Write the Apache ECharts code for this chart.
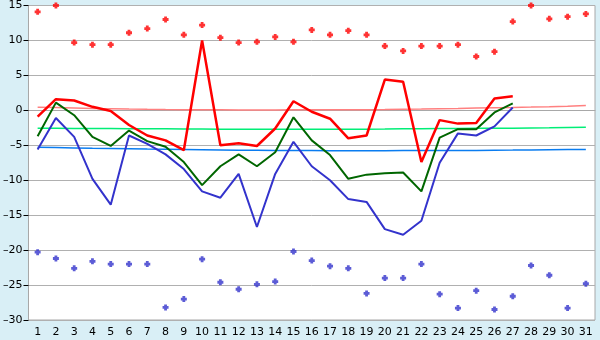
<!DOCTYPE html>
<html>
<head>
<meta charset="utf-8">
<script src="https://cdn.jsdelivr.net/npm/echarts@6/dist/echarts.min.js"></script>
<style>
  html, body { margin: 0; padding: 0; background: #d9eff6; }
  #chart { width: 600px; height: 340px; }
</style>
</head>
<body>
<div id="chart"></div>
<script>
// Days of the month
const days = ['1','2','3','4','5','6','7','8','9','10','11','12','13','14','15','16',
  '17','18','19','20','21','22','23','24','25','26','27','28','29','30','31'];

// Daily maximum, mean and minimum temperature (days 1-27)
const tMax  = [-0.9, 1.6, 1.4, 0.5, -0.1, -2.1, -3.6, -4.3, -5.7, 10.0, -5.0, -4.7, -5.1, -2.6, 1.3,
  -0.2, -1.2, -4.0, -3.6, 4.4, 4.1, -7.4, -1.4, -1.9, -1.8, 1.7, 2.0];
const tMean = [-3.7, 1.1, -0.7, -3.8, -5.1, -2.9, -4.4, -5.2, -7.4, -10.7, -8.0, -6.3, -8.0, -6.0, -1.0,
  -4.3, -6.4, -9.8, -9.2, -9.0, -8.9, -11.6, -3.9, -2.7, -2.7, -0.3, 1.0];
const tMin  = [-5.6, -1.1, -3.8, -9.8, -13.5, -3.6, -4.8, -6.3, -8.4, -11.6, -12.5, -9.1, -16.7, -9.1, -4.5,
  -8.0, -10.0, -12.7, -13.1, -17.0, -17.8, -15.8, -7.5, -3.3, -3.6, -2.3, 0.4];

// Long-term normals for each day
const nMax  = [0.45, 0.4, 0.34, 0.28, 0.23, 0.18, 0.14, 0.11, 0.09, 0.08, 0.07, 0.06, 0.06, 0.06, 0.07, 0.07,
  0.08, 0.09, 0.1, 0.13, 0.17, 0.2, 0.24, 0.28, 0.33, 0.37, 0.41, 0.46, 0.52, 0.6, 0.7];
const nMean = [-2.57, -2.58, -2.59, -2.6, -2.61, -2.62, -2.63, -2.64, -2.66, -2.68, -2.69, -2.7, -2.7, -2.71, -2.71, -2.71,
  -2.7, -2.7, -2.69, -2.67, -2.64, -2.62, -2.6, -2.59, -2.58, -2.57, -2.55, -2.53, -2.5, -2.46, -2.43];
const nMin  = [-5.29, -5.33, -5.38, -5.43, -5.47, -5.51, -5.55, -5.58, -5.61, -5.64, -5.67, -5.7, -5.72, -5.74, -5.75, -5.76,
  -5.77, -5.77, -5.77, -5.77, -5.76, -5.76, -5.75, -5.74, -5.73, -5.71, -5.69, -5.66, -5.64, -5.62, -5.6];

// Record highs and lows for each day
const recMax = [14.1, 15.0, 9.7, 9.4, 9.4, 11.1, 11.7, 13.0, 10.8, 12.2, 10.4, 9.7, 9.8, 10.5, 9.8, 11.5,
  10.8, 11.4, 10.8, 9.2, 8.5, 9.2, 9.2, 9.4, 7.7, 8.4, 12.7, 15.0, 13.1, 13.4, 13.8];
const recMin = [-20.3, -21.2, -22.6, -21.6, -22.0, -22.0, -22.0, -28.2, -27.0, -21.3, -24.6, -25.6, -24.9, -24.5, -20.2, -21.5,
  -22.3, -22.6, -26.2, -24.0, -24.0, -22.0, -26.3, -28.3, -25.8, -28.5, -26.6, -22.2, -23.6, -28.3, -24.8];

// Chunky cross marker for the record points
const crossMark = 'path://M1.6,0H4.4V1.6H6V4.4H4.4V6H1.6V4.4H0V1.6H1.6Z';
const font = 'DejaVu Sans';

function lineSeries(data, color, width, z) {
  return {
    type: 'line', data: data, symbol: 'none', z: z, silent: true,
    lineStyle: { color: color, width: width }
  };
}
function dotSeries(data, color) {
  return {
    type: 'scatter', data: data, symbol: crossMark, symbolSize: 6, z: 10, clip: false, silent: true,
    itemStyle: { color: color }
  };
}

const chart = echarts.init(document.getElementById('chart'), null, { renderer: 'canvas' });
chart.setOption({
  animation: false,
  backgroundColor: '#d9eff6',
  grid: { left: 27, right: 5, top: 5, bottom: 20, show: true, backgroundColor: '#ffffff', borderColor: '#a8a8a8', borderWidth: 1 },
  xAxis: {
    type: 'category', data: days, boundaryGap: true,
    axisLine: { lineStyle: { color: '#a8a8a8' } },
    axisTick: { alignWithLabel: true, length: 5, lineStyle: { color: '#000000' } },
    axisLabel: { color: '#000', fontFamily: font, fontSize: 11, margin: 7, interval: 0 }
  },
  yAxis: {
    type: 'value', min: -30, max: 15, interval: 5,
    axisLine: { show: true, lineStyle: { color: '#a8a8a8' } },
    axisTick: { show: true, length: 5, lineStyle: { color: '#000000' } },
    splitLine: { lineStyle: { color: '#b0b0b0' } },
    axisLabel: { color: '#000', fontFamily: font, fontSize: 11, margin: 6,
      formatter: v => String(v).replace('-', '\u2013') }
  },
  series: [
    lineSeries(nMax, '#ff8080', 1.5, 2),
    lineSeries(nMean, '#00ee77', 1.5, 2),
    lineSeries(nMin, '#0a7cf0', 1.5, 2),
    lineSeries(tMin, '#3333cc', 2, 3),
    lineSeries(tMean, '#006600', 2, 4),
    lineSeries(tMax, '#ff0000', 2.5, 5),
    dotSeries(recMax, '#ff0000'),
    dotSeries(recMin, '#3333cc')
  ]
});
</script>
</body>
</html>
